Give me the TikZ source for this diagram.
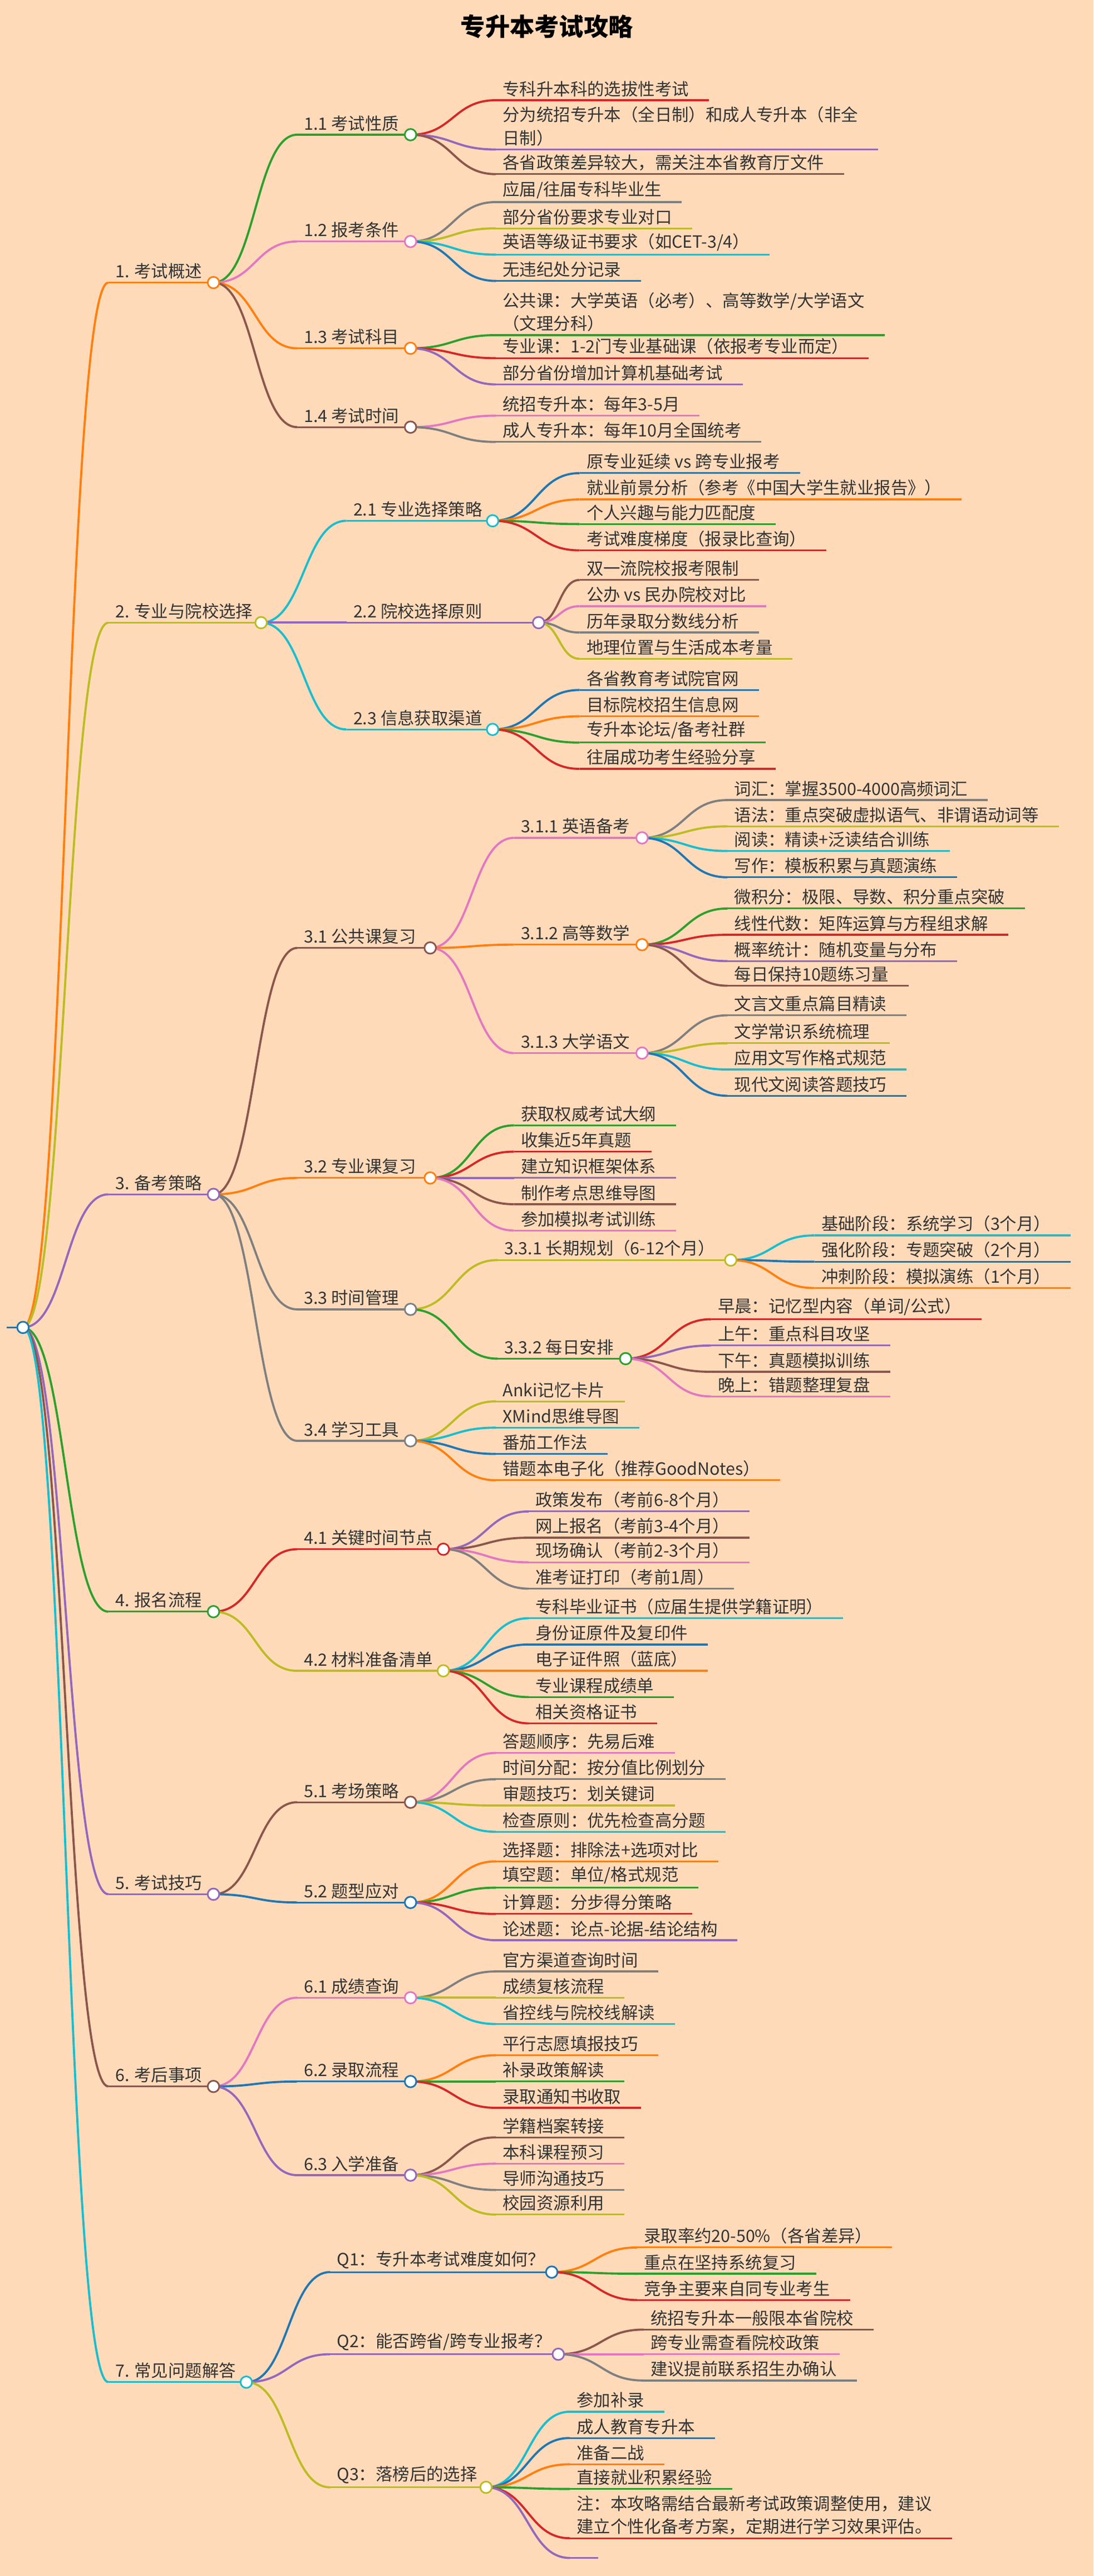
\documentclass[tikz,border=0pt]{standalone}
\usepackage{fontspec}
\setmainfont{Noto Sans CJK SC}
\usetikzlibrary{calc}
\definecolor{bg}{HTML}{FFDAB9}
\definecolor{c0}{HTML}{1f77b4}\definecolor{c1}{HTML}{ff7f0e}\definecolor{c2}{HTML}{2ca02c}
\definecolor{c3}{HTML}{d62728}\definecolor{c4}{HTML}{9467bd}\definecolor{c5}{HTML}{8c564b}
\definecolor{c6}{HTML}{e377c2}\definecolor{c7}{HTML}{7f7f7f}\definecolor{c8}{HTML}{bcbd22}
\definecolor{c9}{HTML}{17becf}
\pgfdeclarelayer{fg}\pgfsetlayers{main,fg}
\newcounter{ci}
\tikzset{txt/.style={font=\fontsize{10.3}{14}\selectfont,text=black!80,inner xsep=0pt,inner ysep=2pt,align=left,anchor=south west},
 ln/.style={line width=1.1pt}, edge/.style={line width=1.3pt}}
\newcommand\link[3]{\draw[#3,edge] let \p1=(#1),\p2=(#2) in (#1) .. controls ({(\x1+\x2)/2},\y1) and ({(\x1+\x2)/2},\y2) .. (#2);}
\newcommand\inode[6]{%
 \stepcounter{ci}\pgfmathtruncatemacro\cc{mod(\value{ci},10)}%
 \node[txt] (#2) at (#3,#4+7) {#6};
 \coordinate (#2s) at (#3-4,#4+7);
 \coordinate (#2c) at (#5,#4+7);
 \draw[c\cc,ln] (#2s) -- (#2c);
 \link{#1}{#2s}{c\cc}
 \begin{pgfonlayer}{fg}\draw[c\cc,fill=white,line width=1pt] (#2c) circle (3.5);\end{pgfonlayer}}
\newcommand\leaf[5]{%
 \stepcounter{ci}\pgfmathtruncatemacro\cc{mod(\value{ci},10)}%
 \node[txt] (#2) at (#3,#4+7) {#5};
 \coordinate (#2s) at (#3-4,#4+7);
 \draw[c\cc,ln] (#2s) -- ([xshift=12pt]#2.south east);
 \link{#1}{#2s}{c\cc}}
\begin{document}
\begin{tikzpicture}[x=1pt,y=-1pt]
\fill[bg] (0,0) rectangle (666,1568);
\useasboundingbox (0,0) rectangle (666,1568);
\node[font=\fontsize{15}{18}\selectfont\bfseries] (title) at (333,16) {专升本考试攻略};
\coordinate (rootc) at (14,808);
\coordinate (roots) at (4,808);
\draw[c0,ln] (roots) -- (rootc);
\begin{pgfonlayer}{fg}\draw[c0,fill=white,line width=1pt] (rootc) circle (3.5);\end{pgfonlayer}
% G1
\inode{rootc}{a}{70}{165}{130}{1. 考试概述}
 \inode{ac}{a1}{185}{75}{250}{1.1 考试性质}
  \leaf{a1c}{a11}{306}{54}{专科升本科的选拔性考试}
  \leaf{a1c}{a12}{306}{84}{分为统招专升本（全日制）和成人专升本（非全\\日制）}
  \leaf{a1c}{a13}{306}{99}{各省政策差异较大，需关注本省教育厅文件}
 \inode{ac}{a2}{185}{140}{250}{1.2 报考条件}
  \leaf{a2c}{a21}{306}{116}{应届/往届专科毕业生}
  \leaf{a2c}{a22}{306}{132}{部分省份要求专业对口}
  \leaf{a2c}{a23}{306}{148}{英语等级证书要求（如CET-3/4）}
  \leaf{a2c}{a24}{306}{164}{无违纪处分记录}
 \inode{ac}{a3}{185}{205}{250}{1.3 考试科目}
  \leaf{a3c}{a31}{306}{197}{公共课：大学英语（必考）、高等数学/大学语文\\（文理分科）}
  \leaf{a3c}{a32}{306}{211}{专业课：1-2门专业基础课（依报考专业而定）}
  \leaf{a3c}{a33}{306}{227}{部分省份增加计算机基础考试}
 \inode{ac}{a4}{185}{253}{250}{1.4 考试时间}
  \leaf{a4c}{a41}{306}{246}{统招专升本：每年3-5月}
  \leaf{a4c}{a42}{306}{262}{成人专升本：每年10月全国统考}
% G2
\inode{rootc}{b}{70}{372}{159}{2. 专业与院校选择}
 \inode{bc}{b1}{215}{310}{300}{2.1 专业选择策略}
  \leaf{b1c}{b11}{357}{281}{原专业延续 vs 跨专业报考}
  \leaf{b1c}{b12}{357}{297}{就业前景分析（参考《中国大学生就业报告》）}
  \leaf{b1c}{b13}{357}{312}{个人兴趣与能力匹配度}
  \leaf{b1c}{b14}{357}{328}{考试难度梯度（报录比查询）}
 \inode{bc}{b2}{215}{372}{328}{2.2 院校选择原则}
  \leaf{b2c}{b21}{357}{346}{双一流院校报考限制}
  \leaf{b2c}{b22}{357}{362}{公办 vs 民办院校对比}
  \leaf{b2c}{b23}{357}{378}{历年录取分数线分析}
  \leaf{b2c}{b24}{357}{394}{地理位置与生活成本考量}
 \inode{bc}{b3}{215}{437}{300}{2.3 信息获取渠道}
  \leaf{b3c}{b31}{357}{413}{各省教育考试院官网}
  \leaf{b3c}{b32}{357}{429}{目标院校招生信息网}
  \leaf{b3c}{b33}{357}{445}{专升本论坛/备考社群}
  \leaf{b3c}{b34}{357}{461}{往届成功考生经验分享}
% G3
\inode{rootc}{c}{70}{720}{130}{3. 备考策略}
 \inode{cc}{c1}{185}{570}{262}{3.1 公共课复习}
  \inode{c1c}{c11}{317}{503}{391}{3.1.1 英语备考}
   \leaf{c11c}{c111}{447}{480}{词汇：掌握3500-4000高频词汇}
   \leaf{c11c}{c112}{447}{496}{语法：重点突破虚拟语气、非谓语动词等}
   \leaf{c11c}{c113}{447}{511}{阅读：精读+泛读结合训练}
   \leaf{c11c}{c114}{447}{527}{写作：模板积累与真题演练}
  \inode{c1c}{c12}{317}{568}{391}{3.1.2 高等数学}
   \leaf{c12c}{c121}{447}{546}{微积分：极限、导数、积分重点突破}
   \leaf{c12c}{c122}{447}{562}{线性代数：矩阵运算与方程组求解}
   \leaf{c12c}{c123}{447}{578}{概率统计：随机变量与分布}
   \leaf{c12c}{c124}{447}{593}{每日保持10题练习量}
  \inode{c1c}{c13}{317}{634}{391}{3.1.3 大学语文}
   \leaf{c13c}{c131}{447}{611}{文言文重点篇目精读}
   \leaf{c13c}{c132}{447}{628}{文学常识系统梳理}
   \leaf{c13c}{c133}{447}{644}{应用文写作格式规范}
   \leaf{c13c}{c134}{447}{660}{现代文阅读答题技巧}
 \inode{cc}{c2}{185}{710}{262}{3.2 专业课复习}
  \leaf{c2c}{c21}{317}{678}{获取权威考试大纲}
  \leaf{c2c}{c22}{317}{694}{收集近5年真题}
  \leaf{c2c}{c23}{317}{710}{建立知识框架体系}
  \leaf{c2c}{c24}{317}{726}{制作考点思维导图}
  \leaf{c2c}{c25}{317}{742}{参加模拟考试训练}
 \inode{cc}{c3}{185}{790}{250}{3.3 时间管理}
  \inode{c3c}{c31}{307}{760}{445}{3.3.1 长期规划（6-12个月）}
   \leaf{c31c}{c311}{500}{745}{基础阶段：系统学习（3个月）}
   \leaf{c31c}{c312}{500}{761}{强化阶段：专题突破（2个月）}
   \leaf{c31c}{c313}{500}{777}{冲刺阶段：模拟演练（1个月）}
  \inode{c3c}{c32}{307}{820}{381}{3.3.2 每日安排}
   \leaf{c32c}{c321}{437}{796}{早晨：记忆型内容（单词/公式）}
   \leaf{c32c}{c322}{437}{812}{上午：重点科目攻坚}
   \leaf{c32c}{c323}{437}{828}{下午：真题模拟训练}
   \leaf{c32c}{c324}{437}{843}{晚上：错题整理复盘}
 \inode{cc}{c4}{185}{870}{250}{3.4 学习工具}
  \leaf{c4c}{c41}{306}{846}{Anki记忆卡片}
  \leaf{c4c}{c42}{306}{862}{XMind思维导图}
  \leaf{c4c}{c43}{306}{878}{番茄工作法}
  \leaf{c4c}{c44}{306}{894}{错题本电子化（推荐GoodNotes）}
% G4
\inode{rootc}{d}{70}{974}{130}{4. 报名流程}
 \inode{dc}{d1}{185}{936}{270}{4.1 关键时间节点}
  \leaf{d1c}{d11}{326}{913}{政策发布（考前6-8个月）}
  \leaf{d1c}{d12}{326}{929}{网上报名（考前3-4个月）}
  \leaf{d1c}{d13}{326}{944}{现场确认（考前2-3个月）}
  \leaf{d1c}{d14}{326}{960}{准考证打印（考前1周）}
 \inode{dc}{d2}{185}{1010}{270}{4.2 材料准备清单}
  \leaf{d2c}{d21}{326}{978}{专科毕业证书（应届生提供学籍证明）}
  \leaf{d2c}{d22}{326}{994}{身份证原件及复印件}
  \leaf{d2c}{d23}{326}{1010}{电子证件照（蓝底）}
  \leaf{d2c}{d24}{326}{1026}{专业课程成绩单}
  \leaf{d2c}{d25}{326}{1042}{相关资格证书}
% G5
\inode{rootc}{e}{70}{1146}{130}{5. 考试技巧}
 \inode{ec}{e1}{185}{1090}{250}{5.1 考场策略}
  \leaf{e1c}{e11}{306}{1060}{答题顺序：先易后难}
  \leaf{e1c}{e12}{306}{1076}{时间分配：按分值比例划分}
  \leaf{e1c}{e13}{306}{1092}{审题技巧：划关键词}
  \leaf{e1c}{e14}{306}{1108}{检查原则：优先检查高分题}
 \inode{ec}{e2}{185}{1151}{250}{5.2 题型应对}
  \leaf{e2c}{e21}{306}{1126}{选择题：排除法+选项对比}
  \leaf{e2c}{e22}{306}{1142}{填空题：单位/格式规范}
  \leaf{e2c}{e23}{306}{1158}{计算题：分步得分策略}
  \leaf{e2c}{e24}{306}{1174}{论述题：论点-论据-结论结构}
% G6
\inode{rootc}{f}{70}{1263}{130}{6. 考后事项}
 \inode{fc}{f1}{185}{1209}{250}{6.1 成绩查询}
  \leaf{f1c}{f11}{306}{1193}{官方渠道查询时间}
  \leaf{f1c}{f12}{306}{1209}{成绩复核流程}
  \leaf{f1c}{f13}{306}{1225}{省控线与院校线解读}
 \inode{fc}{f2}{185}{1260}{250}{6.2 录取流程}
  \leaf{f2c}{f21}{306}{1244}{平行志愿填报技巧}
  \leaf{f2c}{f22}{306}{1260}{补录政策解读}
  \leaf{f2c}{f23}{306}{1276}{录取通知书收取}
 \inode{fc}{f3}{185}{1317}{250}{6.3 入学准备}
  \leaf{f3c}{f31}{306}{1294}{学籍档案转接}
  \leaf{f3c}{f32}{306}{1310}{本科课程预习}
  \leaf{f3c}{f33}{306}{1326}{导师沟通技巧}
  \leaf{f3c}{f34}{306}{1341}{校园资源利用}
% G7
\inode{rootc}{g}{70}{1443}{150}{7. 常见问题解答}
 \inode{gc}{g1}{205}{1376}{336}{Q1：专升本考试难度如何？}
  \leaf{g1c}{g11}{392}{1361}{录取率约20-50\%（各省差异）}
  \leaf{g1c}{g12}{392}{1377}{重点在坚持系统复习}
  \leaf{g1c}{g13}{392}{1393}{竞争主要来自同专业考生}
 \inode{gc}{g2}{205}{1426}{340}{Q2：能否跨省/跨专业报考？}
  \leaf{g2c}{g21}{396}{1411}{统招专升本一般限本省院校}
  \leaf{g2c}{g22}{396}{1426}{跨专业需查看院校政策}
  \leaf{g2c}{g23}{396}{1442}{建议提前联系招生办确认}
 \inode{gc}{g3}{205}{1507}{296}{Q3：落榜后的选择}
  \leaf{g3c}{g31}{351}{1461}{参加补录}
  \leaf{g3c}{g32}{351}{1477}{成人教育专升本}
  \leaf{g3c}{g33}{351}{1493}{准备二战}
  \leaf{g3c}{g34}{351}{1508}{直接就业积累经验}
  \leaf{g3c}{g35}{351}{1538}{注：本攻略需结合最新考试政策调整使用，建议\\建立个性化备考方案，定期进行学习效果评估。}
  \leaf{g3c}{g36}{351}{1550}{}
\end{tikzpicture}
\end{document}
